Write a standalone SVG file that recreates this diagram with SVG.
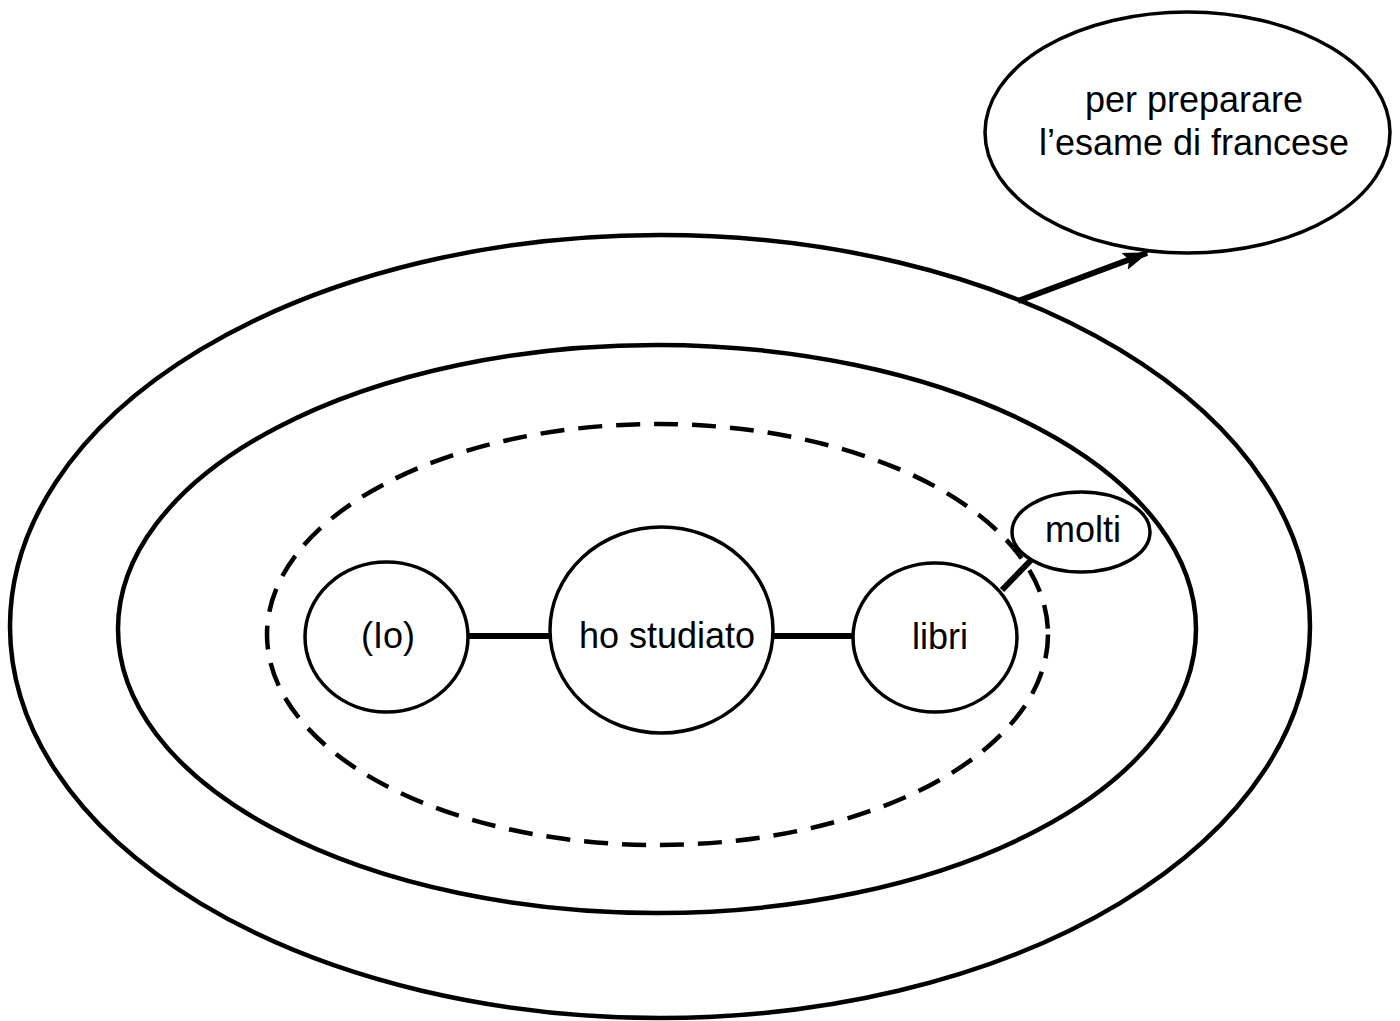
<svg xmlns="http://www.w3.org/2000/svg" width="1400" height="1021" viewBox="0 0 1400 1021">
<style>
.bg{fill:#fff}
.ring{fill:none;stroke:#000;stroke-width:4.5}
.dash{fill:none;stroke:#000;stroke-width:4.5;stroke-dasharray:24 14}
.node{fill:#fff;stroke:#000;stroke-width:3.5}
.lbl{font-family:"Liberation Sans",Arial,sans-serif;font-size:36px;fill:#000;text-anchor:middle}
.edge{stroke:#000;stroke-width:6;fill:none}
</style>
<defs>
<marker id="arr" markerUnits="userSpaceOnUse" markerWidth="26" markerHeight="20" viewBox="0 0 26 20" refX="24" refY="10" orient="auto">
<path d="M0,1 L26,10 L0,19 L5,10 Z" fill="#000"/>
</marker>
</defs>
<rect class="bg" width="1400" height="1021"/>
<g id="outer"><ellipse class="ring" cx="660" cy="626.5" rx="650" ry="391.5"/></g>
<g id="middle"><ellipse class="ring" cx="657" cy="629" rx="539" ry="284"/></g>
<g id="group-dashed"><ellipse class="dash" cx="657.5" cy="634.5" rx="390.5" ry="210.5"/></g>
<g id="connectors">
<line class="edge" x1="468" y1="636" x2="550" y2="636"/>
<line class="edge" x1="773" y1="636" x2="853" y2="636"/>
<line class="edge" x1="1002" y1="590" x2="1033" y2="558"/>
<line class="edge" x1="1018" y1="301" x2="1147" y2="253" stroke-width="5" marker-end="url(#arr)"/>
</g>
<g id="node-io"><ellipse class="node" cx="386.5" cy="637" rx="81.5" ry="75"/><text class="lbl" x="388" y="648">(Io)</text></g>
<g id="node-ho-studiato"><ellipse class="node" cx="661.5" cy="630" rx="111.5" ry="103"/><text class="lbl" x="667" y="648">ho studiato</text></g>
<g id="node-libri"><ellipse class="node" cx="935" cy="637.5" rx="82" ry="74.5"/><text class="lbl" x="940" y="649">libri</text></g>
<g id="node-molti"><ellipse class="node" cx="1081" cy="532" rx="69" ry="40"/><text class="lbl" x="1083" y="542">molti</text></g>
<g id="node-per-preparare"><ellipse class="node" cx="1187.5" cy="132.5" rx="202.5" ry="120.5"/><text class="lbl" x="1194" y="112">per preparare</text><text class="lbl" x="1194" y="155">l’esame di francese</text></g>
</svg>
